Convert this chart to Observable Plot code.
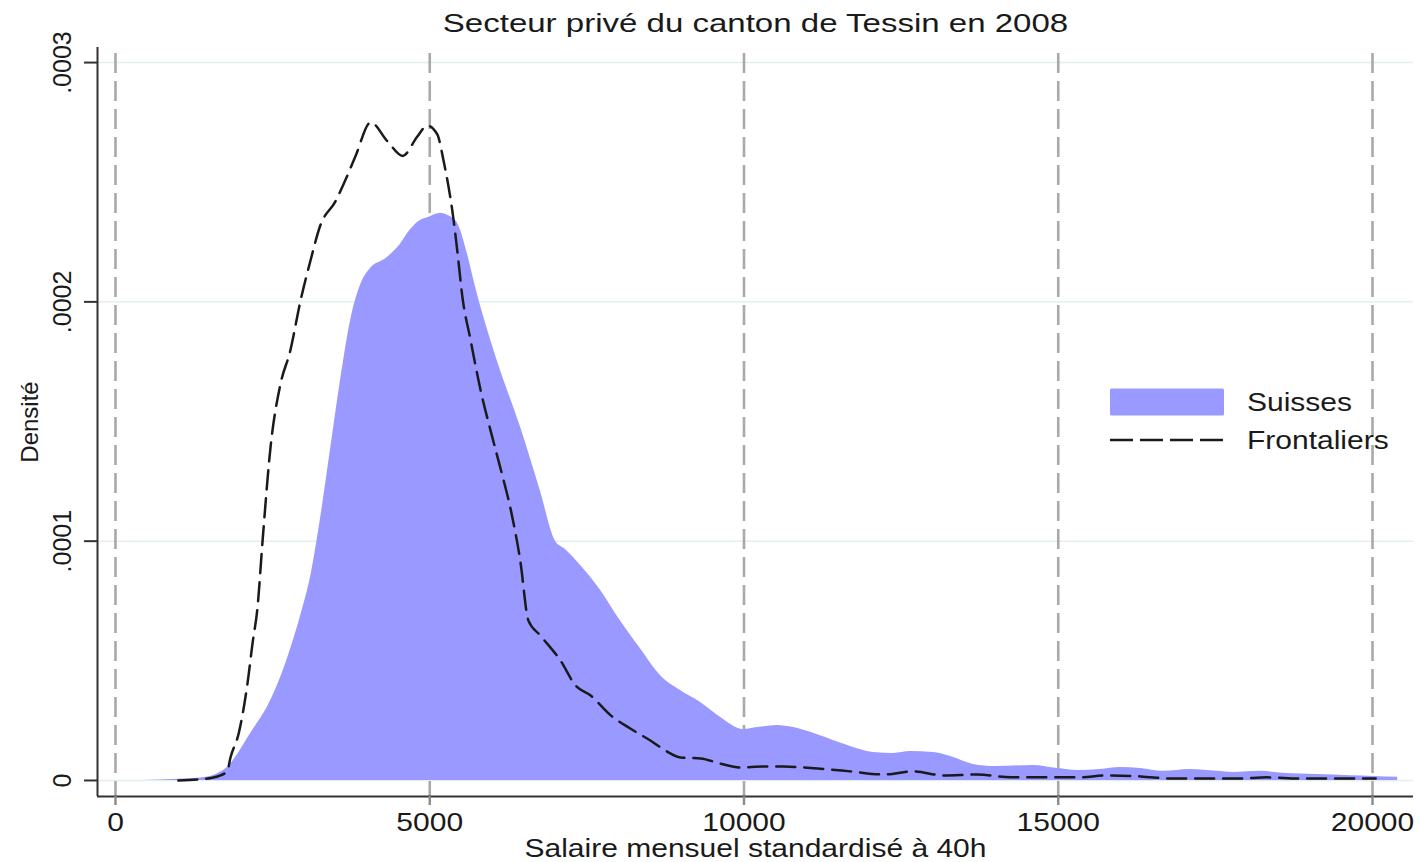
<!DOCTYPE html>
<html><head><meta charset="utf-8">
<script src="https://cdn.jsdelivr.net/npm/d3@7"></script>
<script src="https://cdn.jsdelivr.net/npm/@observablehq/plot@0.6"></script>
<style>
html,body{margin:0;padding:0;background:#fff}
#wrap{position:relative;width:1420px;height:862px;font-family:"Liberation Sans",Arial,sans-serif;color:#1a1a1a}
.lg-row{position:absolute;left:1110px;height:38px;display:flex;align-items:center;white-space:nowrap}
.lg-row svg{display:block}
.lg-row span{display:inline-block;margin-left:23px;font-size:25px;transform:scaleX(1.2);transform-origin:left center}
</style></head><body><div id="wrap"></div>
<script>
const titre = "Secteur privé du canton de Tessin en 2008";
const xLabel = "Salaire mensuel standardisé à 40h";
const yLabel = "Densité";
const series = ["Suisses", "Frontaliers"];
const xTicks = [0, 5000, 10000, 15000, 20000];
const xTickLabels = ["0", "5000", "10000", "15000", "20000"];
const yTicks = [0, 0.0001, 0.0002, 0.0003];
const yTickLabels = ["0", ".0001", ".0002", ".0003"];

const suissesSalaire = [450,1000,1350,1600,1780,2150,2470,2670,2830,2975,3100,3260,3420,3580,3740,3900,4060,4300,4530,4690,4850,5000,5170,5300,5440,5600,5730,5970,6130,6440,6760,7000,7160,7400,7720,8030,8350,8670,8990,9310,9630,9990,10250,10530,10790,11060,11420,11740,12060,12380,12650,13010,13290,13650,14000,14600,14990,15310,15670,15990,16310,16670,17100,17530,17790,18220,18580,19120,19650,20020,20400];
const suissesDensite = [0,0.0000005,0.000001,0.0000025,0.0000054,0.0000196,0.0000334,0.000046,0.0000585,0.0000715,0.0000845,0.000109,0.000138,0.000167,0.000192,0.000207,0.000214,0.000218,0.000224,0.00023,0.000234,0.0002355,0.000237,0.000236,0.000233,0.00022,0.000206,0.000184,0.000171,0.000148,0.000121,0.0001,0.0000965,0.0000898,0.0000794,0.0000668,0.0000551,0.0000439,0.0000376,0.0000326,0.0000263,0.0000213,0.0000222,0.000023,0.0000221,0.0000201,0.0000167,0.0000138,0.0000117,0.0000113,0.0000121,0.0000117,0.00001,0.0000067,0.0000058,0.0000063,0.000005,0.0000042,0.0000046,0.0000054,0.000005,0.0000038,0.0000046,0.0000038,0.0000033,0.0000038,0.000003,0.0000025,0.000002,0.0000017,0.0000013];

const frontSalaire = [1000,1350,1520,1660,1780,1830,1960,2100,2180,2260,2340,2470,2620,2785,2940,3100,3260,3500,3660,3820,4060,4330,4570,4800,4960,5120,5220,5300,5360,5440,5520,5650,5810,5970,6130,6290,6440,6570,6760,7080,7320,7560,7880,8190,8510,8750,8990,9310,9630,9940,10300,10630,11170,11690,12220,12700,13170,13720,14240,14770,15310,15780,16310,16830,17370,17850,18330,18850,19380,20050];
const frontDensite = [0,0.0000005,0.000001,0.000002,0.000004,0.0000096,0.0000196,0.0000405,0.0000572,0.0000723,0.0001,0.00014,0.000165,0.00018,0.0002,0.000217,0.000232,0.000242,0.000251,0.000261,0.000275,0.000267,0.000261,0.000269,0.0002737,0.00027,0.000259,0.000248,0.000238,0.000221,0.000202,0.000184,0.000163,0.000146,0.00013,0.000113,0.0000919,0.0000668,0.0000606,0.0000501,0.0000397,0.0000355,0.0000272,0.0000217,0.0000167,0.0000125,0.0000096,0.0000092,0.000007,0.0000054,0.0000058,0.0000058,0.000005,0.0000038,0.0000025,0.0000038,0.0000021,0.0000025,0.0000013,0.0000013,0.0000013,0.0000021,0.0000017,0.0000008,0.0000008,0.0000008,0.0000013,0.0000008,0.0000008,0.0000008];

const suisses = suissesSalaire.map((s, i) => ({salaire: s, densite: suissesDensite[i]}));
const frontaliers = frontSalaire.map((s, i) => ({salaire: s, densite: frontDensite[i]}));

const fillSuisses = "#9999ff";
const xDomain = [-286, 20652];
const yDomain = [-0.0000067, 0.0003063];

const chart = Plot.plot({
  width: 1420, height: 862,
  marginLeft: 97, marginRight: 7, marginTop: 47, marginBottom: 66,
  style: {fontFamily: "'Liberation Sans', Arial, sans-serif", fontSize: "25px", background: "#fff", color: "#1a1a1a"},
  x: {domain: xDomain},
  y: {domain: yDomain},
  marks: [
    Plot.ruleY(yTicks, {stroke: "#e4edf0", strokeWidth: 1.5}),
    Plot.ruleX(xTicks, {stroke: "#a9a9a9", strokeWidth: 2.6, strokeDasharray: "20,8", insetTop: 6}),
    Plot.areaY(suisses, {x: "salaire", y: "densite", fill: fillSuisses, curve: "monotone-x"}),
    Plot.lineY(frontaliers, {x: "salaire", y: "densite", stroke: "#1a1a1a", strokeWidth: 2.5, strokeDasharray: "19,9", curve: "monotone-x"}),
    Plot.ruleX([xDomain[0]], {stroke: "#333", strokeWidth: 2}),
    Plot.ruleY([yDomain[0]], {stroke: "#333", strokeWidth: 2}),
    Plot.axisX(xTicks, {tickSize: 9, tickPadding: 8, stroke: "#8a8a8a", strokeWidth: 2.4, tickFormat: (d, i) => xTickLabels[i], fontSize: 25, label: null}),
    Plot.axisY(yTicks, {tickSize: 13, stroke: "#333", strokeWidth: 2, tickFormat: () => "", label: null}),
    Plot.text(yTicks, {y: d => d, text: (d, i) => yTickLabels[i], frameAnchor: "left", rotate: -90, dx: -27, lineAnchor: "bottom", textAnchor: "middle", fontSize: 25, fill: "#1a1a1a"}),
    Plot.text([yLabel], {text: d => d, frameAnchor: "left", rotate: -90, dx: -60, lineAnchor: "bottom", textAnchor: "middle", fontSize: 24, fill: "#1a1a1a"}),
    Plot.text([xLabel], {text: d => d, frameAnchor: "bottom", dy: 60, lineAnchor: "bottom", textAnchor: "middle", fontSize: 25, fill: "#1a1a1a"}),
    Plot.text([titre], {text: d => d, frameAnchor: "top", dy: -16, lineAnchor: "bottom", textAnchor: "middle", fontSize: 26, fill: "#1a1a1a"})
  ]
});

const wrap = document.getElementById("wrap");
wrap.appendChild(chart);

// horizontally widened lettering, as in the reference
const STRETCH = 1.2;
chart.querySelectorAll("text").forEach(t => {
  const tr = (t.getAttribute("transform") || "") + ((t.parentNode && t.parentNode.getAttribute && t.parentNode.getAttribute("transform")) || "");
  if (tr.includes("rotate")) return;
  const len = t.getComputedTextLength();
  if (len > 0) {
    const k = t.textContent === titre ? 1.27 : STRETCH;
    t.setAttribute("textLength", (len * k).toFixed(1));
    t.setAttribute("lengthAdjust", "spacingAndGlyphs");
  }
});

// legend
const rowTops = [383, 421];
series.forEach((name, i) => {
  const row = document.createElement("div");
  row.className = "lg-row";
  row.style.top = rowTops[i] + "px";
  const ns = "http://www.w3.org/2000/svg";
  const sw = document.createElementNS(ns, "svg");
  sw.setAttribute("width", 114);
  sw.setAttribute("height", 28);
  if (i === 0) {
    const r = document.createElementNS(ns, "rect");
    r.setAttribute("x", 0); r.setAttribute("y", 0.5);
    r.setAttribute("width", 114); r.setAttribute("height", 27);
    r.setAttribute("rx", 1.5);
    r.setAttribute("fill", fillSuisses);
    sw.appendChild(r);
  } else {
    const l = document.createElementNS(ns, "line");
    l.setAttribute("x1", 0); l.setAttribute("x2", 114);
    l.setAttribute("y1", 14); l.setAttribute("y2", 14);
    l.setAttribute("stroke", "#1a1a1a");
    l.setAttribute("stroke-width", 2.4);
    l.setAttribute("stroke-dasharray", "23,7");
    sw.appendChild(l);
  }
  row.appendChild(sw);
  const sp = document.createElement("span");
  sp.textContent = name;
  row.appendChild(sp);
  wrap.appendChild(row);
});
</script>
</body></html>
